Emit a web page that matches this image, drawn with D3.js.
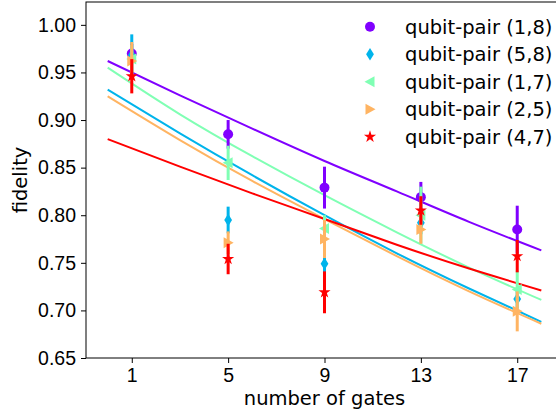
<!DOCTYPE html>
<html>
<head>
<meta charset="utf-8">
<script src="https://cdn.jsdelivr.net/npm/d3@7"></script>
<style>
  body { margin: 0; background: #fff; }
  svg { font-family: "DejaVu Sans", sans-serif; }
</style>
</head>
<body>
<div id="chart"></div>
<script>
// data
const gates = [1, 5, 9, 13, 17];
const xTicks = [1, 5, 9, 13, 17];
const yTicks = [0.65, 0.70, 0.75, 0.80, 0.85, 0.90, 0.95, 1.00];
const labels = ["qubit-pair (1,8)", "qubit-pair (5,8)", "qubit-pair (1,7)", "qubit-pair (2,5)", "qubit-pair (4,7)"];
const colors = ["#8000ff", "#00b4eb", "#80ffb4", "#ffb462", "#ff0000"];
const markers = ["circle", "diamond", "left", "right", "star"];

const fid18 = [0.970, 0.885, 0.829, 0.819, 0.785];
const err18 = [0.010, 0.015, 0.022, 0.016, 0.025];
const fid58 = [0.968, 0.795, 0.749, 0.792, 0.712];
const err58 = [0.022, 0.014, 0.012, 0.012, 0.010];
const fid17 = [0.964, 0.855, 0.786, 0.800, 0.722];
const err17 = [0.015, 0.018, 0.014, 0.030, 0.020];
const fid25 = [0.962, 0.771, 0.775, 0.785, 0.699];
const err25 = [0.020, 0.012, 0.020, 0.015, 0.021];
const fid47 = [0.946, 0.754, 0.719, 0.805, 0.757];
const err47 = [0.018, 0.016, 0.022, 0.015, 0.017];

// fitted decay curves
const fitX = [0, 3, 6, 9, 12, 15, 18];
const fit18 = [0.962, 0.926, 0.891, 0.857, 0.825, 0.793, 0.763];
const fit58 = [0.932, 0.886, 0.842, 0.800, 0.760, 0.723, 0.688];
const fit17 = [0.955, 0.906, 0.862, 0.821, 0.782, 0.745, 0.711];
const fit25 = [0.925, 0.879, 0.836, 0.796, 0.757, 0.720, 0.686];
const fit47 = [0.880, 0.851, 0.823, 0.796, 0.769, 0.744, 0.721];

const fids = [fid18, fid58, fid17, fid25, fid47];
const errs = [err18, err58, err17, err25, err47];
const fits = [fit18, fit58, fit17, fit25, fit47];

const W = 556, H = 413;
const mLeft = 86, mRight = 563, mTop = 2, mBottom = 358;
const fs = "19.5px";

const svg = d3.select("#chart").append("svg")
    .attr("width", W)
    .attr("height", H);

const x = d3.scaleLinear().domain([-0.9, 18.9]).range([mLeft, mRight]);
const y = d3.scaleLinear().domain([0.65, 1.024]).range([mBottom, mTop]);

// marker shapes (matplotlib-like)
function markerPath(m) {
    if (m === "circle") return d3.symbol(d3.symbolCircle, 78)();
    if (m === "diamond") return "M0,-6.2L3.9,0L0,6.2L-3.9,0Z";
    if (m === "left") return "M-5.5,0L4.5,-5.5L4.5,5.5Z";
    if (m === "right") return "M5.5,0L-4.5,-5.5L-4.5,5.5Z";
    return d3.symbol(d3.symbolStar, 46)();
}

//axes
svg.append("g")
    .attr("transform", "translate(0," + mBottom + ")")
    .call(d3.axisBottom(x).tickValues(xTicks).tickSize(5).tickPadding(5))
    .call(g => g.select(".domain").remove())
    .selectAll("text").attr("font-size", fs).attr("fill", "#000");
svg.append("g")
    .attr("transform", "translate(" + mLeft + ",0)")
    .call(d3.axisLeft(y).tickValues(yTicks).tickFormat(d3.format(".2f")).tickSize(5).tickPadding(5))
    .call(g => g.select(".domain").remove())
    .selectAll("text").attr("font-size", fs).attr("fill", "#000");

svg.append("rect")
    .attr("x", mLeft).attr("y", mTop)
    .attr("width", mRight - mLeft).attr("height", mBottom - mTop)
    .attr("fill", "none").attr("stroke", "#000").attr("stroke-width", 1);

svg.append("text")
    .attr("x", (mLeft + mRight) / 2).attr("y", 405)
    .attr("text-anchor", "middle").attr("font-size", fs)
    .text("number of gates");
svg.append("text")
    .attr("transform", "translate(27," + (mTop + mBottom) / 2 + ") rotate(-90)")
    .attr("text-anchor", "middle").attr("font-size", fs)
    .text("fidelity");

const plot = svg.append("g");

//fit lines
const line = d3.line()
    .x(d => x(d[0]))
    .y(d => y(d[1]))
    .curve(d3.curveNatural);
fits.forEach((f, i) => {
    plot.append("path")
        .datum(fitX.map((v, j) => [v, f[j]]))
        .attr("d", line)
        .attr("fill", "none")
        .attr("stroke", colors[i])
        .attr("stroke-width", 2);
});

//error bars and markers
fids.forEach((f, i) => {
    const pts = gates.map((g, j) => ({ g: g, v: f[j], e: errs[i][j] }));
    const s = plot.append("g");
    s.selectAll("line")
        .data(pts)
        .enter().append("line")
        .attr("x1", d => x(d.g)).attr("x2", d => x(d.g))
        .attr("y1", d => y(d.v - d.e)).attr("y2", d => y(d.v + d.e))
        .attr("stroke", colors[i])
        .attr("stroke-width", 3);
    s.selectAll("path")
        .data(pts)
        .enter().append("path")
        .attr("transform", d => "translate(" + x(d.g) + "," + y(d.v) + ")")
        .attr("d", markerPath(markers[i]))
        .attr("fill", colors[i]);
});

//legend
const legend = svg.append("g");
labels.forEach((lab, i) => {
    const ly = 26.7 + i * 27.5;
    legend.append("path")
        .attr("transform", "translate(370," + ly + ")")
        .attr("d", markerPath(markers[i]))
        .attr("fill", colors[i]);
    legend.append("text")
        .attr("x", 405).attr("y", ly)
        .attr("dy", "0.35em")
        .attr("font-size", fs)
        .text(lab);
});
</script>
</body>
</html>
